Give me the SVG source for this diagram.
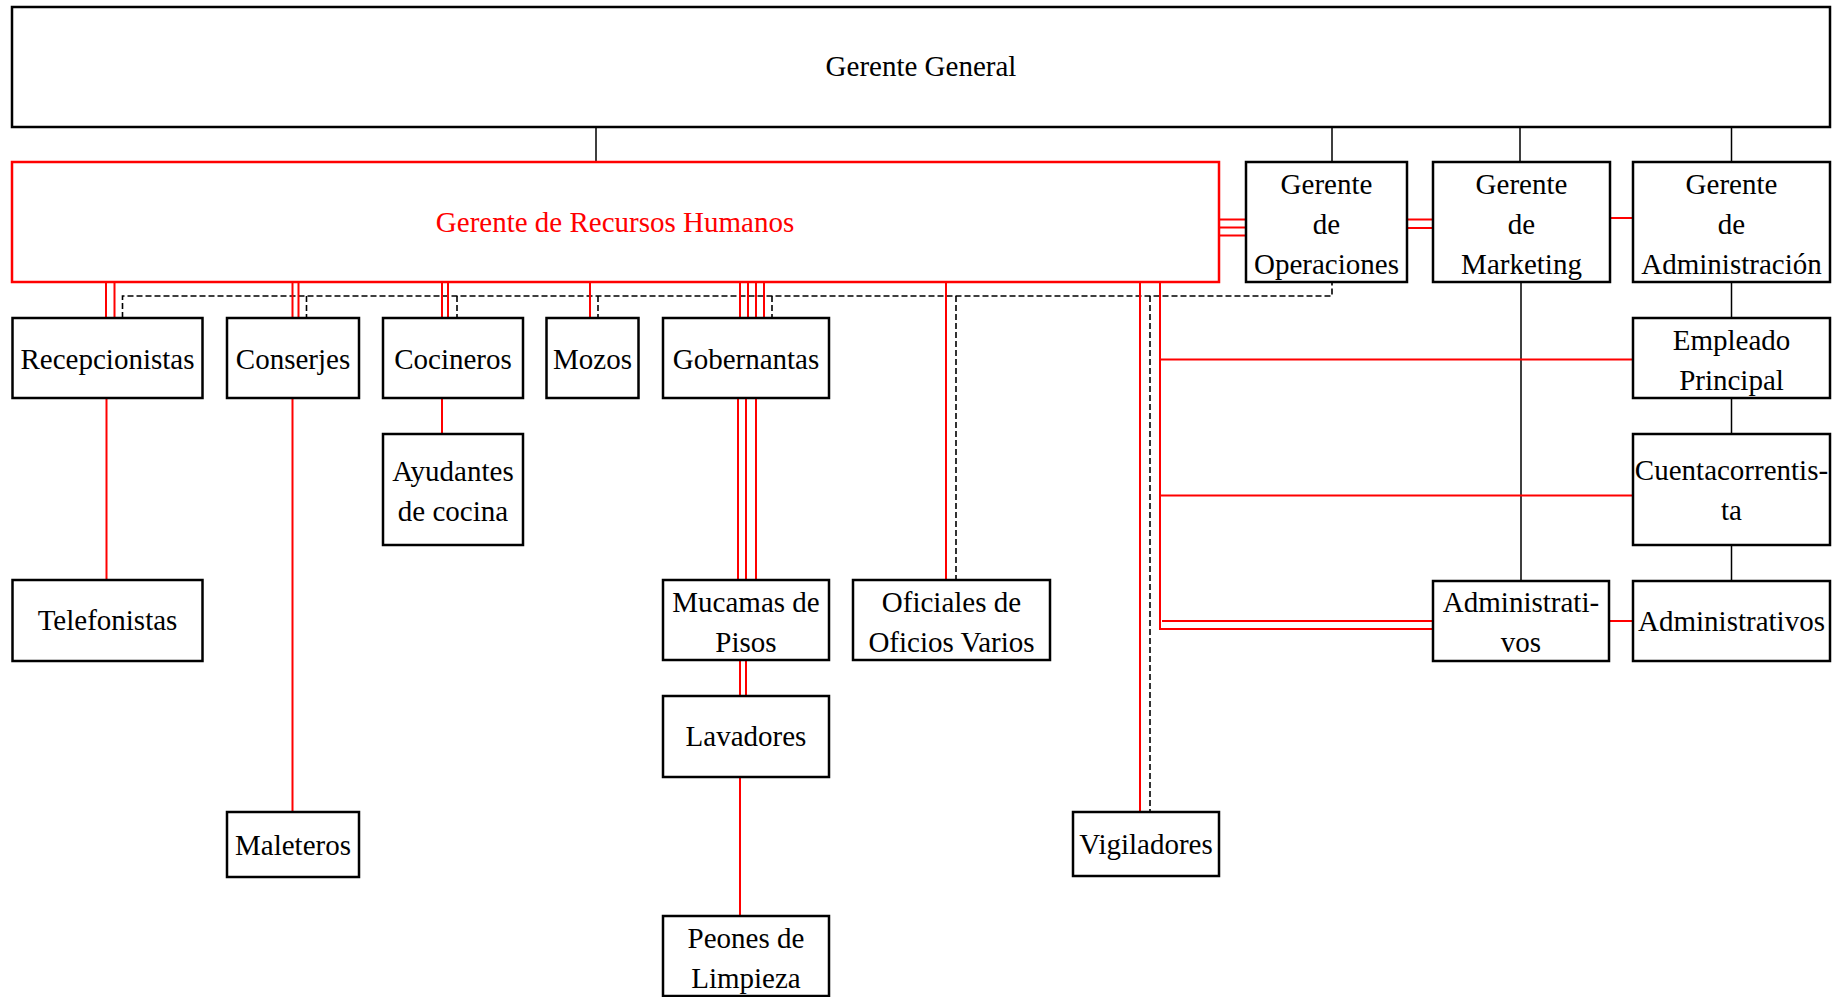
<svg xmlns="http://www.w3.org/2000/svg" width="1832" height="997" viewBox="0 0 1832 997">
<style>
  .box { fill: #ffffff; stroke: #000000; stroke-width: 2.5; }
  .rbox { fill: #ffffff; stroke: #ff0000; stroke-width: 2.5; }
  text { font-family: "Liberation Serif", "Times New Roman", serif; font-size: 29px; fill: #000000; text-anchor: middle; }
  .rt { fill: #ff0000; }
  .blk { stroke: #000000; stroke-width: 1.5; fill: none; }
  .red { stroke: #ff0000; stroke-width: 2; fill: none; }
  .dash { stroke: #000000; stroke-width: 1.6; fill: none; stroke-dasharray: 6 3; }
</style>
<rect width="1832" height="997" fill="#ffffff"/>
<g id="connectors">
  <!-- black solid -->
  <path class="blk" d="M596 127V162 M1332 127V162 M1520 127V162 M1731.5 127V162 M1521 282V581 M1731.5 282V318 M1731.5 398V434 M1731.5 545V581"/>
  <!-- dashed -->
  <path class="dash" d="M122.5 318V296H1332V282"/>
  <path class="dash" d="M306.5 296V318 M457 296V318 M598 296V318 M772 296V318 M956 296V580 M1150 296V812"/>
  <!-- red -->
  <path class="red" d="M106 282V318 M114.5 282V318 M292.5 282V318 M298.5 282V318 M442 282V318 M448 282V318 M590 282V318 M740 282V318 M748 282V318 M756 282V318 M764 282V318"/>
  <path class="red" d="M946 282V580 M1140 282V812 M1160 282V629H1433 M1160 359.5H1633 M1160 495.5H1633 M1162 621H1433 M1609 621H1633"/>
  <path class="red" d="M106.5 398V580 M292.5 398V812 M442 398V434 M738 398V580 M746 398V580 M756 398V580 M740 660V696 M746 660V696 M740 777V916"/>
  <path class="red" d="M1219 219.5H1246 M1219 227.5H1246 M1219 235.5H1246 M1407 219.5H1433 M1407 228H1433 M1610 218H1633"/>
</g>
<g id="gerente-general"><rect class="box" x="12" y="7" width="1818" height="120"/><text x="921" y="76">Gerente General</text></g>
<g id="gerente-rrhh"><rect class="rbox" x="12" y="162" width="1207" height="120"/><text class="rt" x="615" y="232">Gerente de Recursos Humanos</text></g>
<g id="gerente-operaciones"><rect class="box" x="1246" y="162" width="161" height="120"/><text x="1326.5" y="194">Gerente</text><text x="1326.5" y="234">de</text><text x="1326.5" y="274">Operaciones</text></g>
<g id="gerente-marketing"><rect class="box" x="1433" y="162" width="177" height="120"/><text x="1521.5" y="194">Gerente</text><text x="1521.5" y="234">de</text><text x="1521.5" y="274">Marketing</text></g>
<g id="gerente-administracion"><rect class="box" x="1633" y="162" width="197" height="120"/><text x="1731.5" y="194">Gerente</text><text x="1731.5" y="234">de</text><text x="1731.5" y="274">Administración</text></g>
<g id="recepcionistas"><rect class="box" x="12.5" y="318" width="190" height="80"/><text x="107.5" y="369">Recepcionistas</text></g>
<g id="conserjes"><rect class="box" x="227" y="318" width="132" height="80"/><text x="293" y="369">Conserjes</text></g>
<g id="cocineros"><rect class="box" x="383" y="318" width="140" height="80"/><text x="453" y="369">Cocineros</text></g>
<g id="mozos"><rect class="box" x="546.5" y="318" width="92" height="80"/><text x="592.5" y="369">Mozos</text></g>
<g id="gobernantas"><rect class="box" x="663" y="318" width="166" height="80"/><text x="746" y="369">Gobernantas</text></g>
<g id="empleado-principal"><rect class="box" x="1633" y="318" width="197" height="80"/><text x="1731.5" y="350">Empleado</text><text x="1731.5" y="390">Principal</text></g>
<g id="ayudantes-cocina"><rect class="box" x="383" y="434" width="140" height="111"/><text x="453" y="481">Ayudantes</text><text x="453" y="521">de cocina</text></g>
<g id="cuentacorrentista"><rect class="box" x="1633" y="434" width="197" height="111"/><text x="1731.5" y="480">Cuentacorrentis-</text><text x="1731.5" y="520">ta</text></g>
<g id="telefonistas"><rect class="box" x="12.5" y="580" width="190" height="81"/><text x="107.5" y="630">Telefonistas</text></g>
<g id="mucamas"><rect class="box" x="663" y="580" width="166" height="80"/><text x="746" y="612">Mucamas de</text><text x="746" y="652">Pisos</text></g>
<g id="oficiales"><rect class="box" x="853" y="580" width="197" height="80"/><text x="951.5" y="612">Oficiales de</text><text x="951.5" y="652">Oficios Varios</text></g>
<g id="administrativos-mkt"><rect class="box" x="1433" y="581" width="176" height="80"/><text x="1521" y="612">Administrati-</text><text x="1521" y="652">vos</text></g>
<g id="administrativos-adm"><rect class="box" x="1633" y="581" width="197" height="80"/><text x="1731.5" y="631">Administrativos</text></g>
<g id="lavadores"><rect class="box" x="663" y="696" width="166" height="81"/><text x="746" y="746">Lavadores</text></g>
<g id="maleteros"><rect class="box" x="227" y="812" width="132" height="65"/><text x="293" y="855">Maleteros</text></g>
<g id="vigiladores"><rect class="box" x="1073" y="812" width="146" height="64"/><text x="1146" y="854">Vigiladores</text></g>
<g id="peones"><rect class="box" x="663" y="916" width="166" height="80"/><text x="746" y="948">Peones de</text><text x="746" y="988">Limpieza</text></g>
</svg>
